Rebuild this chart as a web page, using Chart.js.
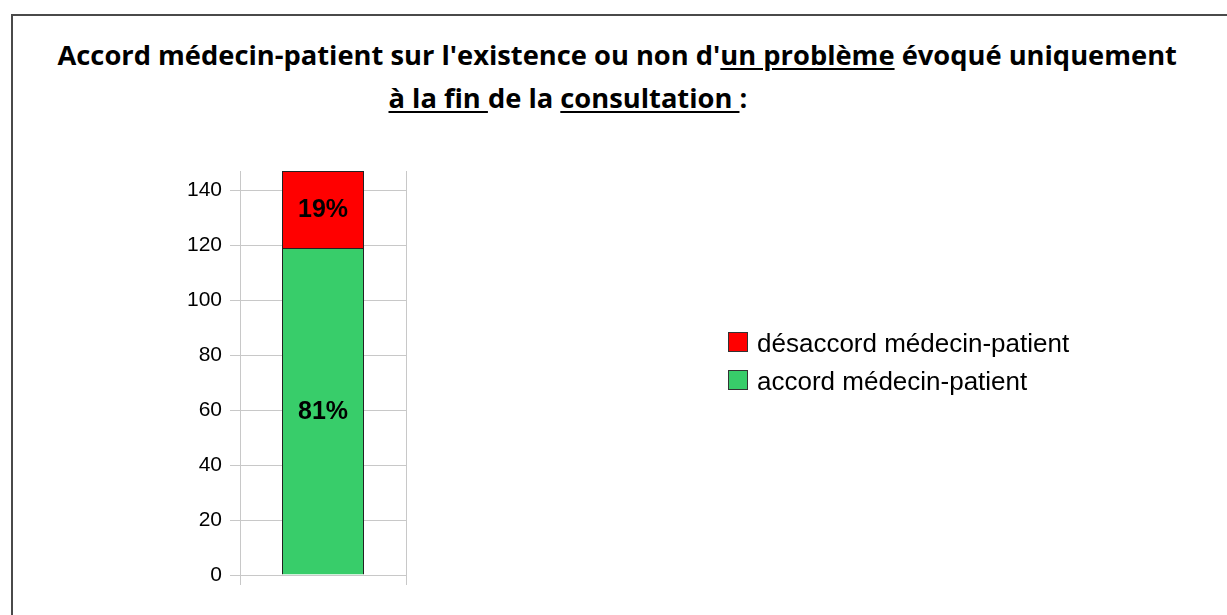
<!DOCTYPE html>
<html>
<head>
<meta charset="utf-8">
<script src="https://cdn.jsdelivr.net/npm/chart.js@4/dist/chart.umd.min.js"></script>
<style>
  html, body { margin: 0; padding: 0; background: #fff; }
  #wrap { position: relative; width: 1227px; height: 615px; overflow: hidden; }
  #frame { position: absolute; left: 11px; top: 14px; width: 1400px; height: 800px;
           border-left: 2px solid #4a4a4a; border-top: 2px solid #4a4a4a; }
  .tl { position: absolute; white-space: pre; font-family: "Open Sans", sans-serif;
        font-weight: bold; font-size: 27.3px; line-height: 30px; color: #000; }
  .tl u { text-decoration-thickness: 2px; text-underline-offset: 3px; }
  canvas { position: absolute; left: 0; top: 0; }
</style>
</head>
<body>
<div id="wrap">
  <div id="frame"></div>
  <div class="tl" id="t1">Accord médecin-patient sur l'existence ou non d'<u>un problème</u> évoqué uniquement</div>
  <div class="tl" id="t2"><u>à la fin </u>de la <u>consultation </u>:</div>
  <canvas id="chart1" width="1227" height="615"></canvas>
</div>
<script>
var categories = [''];
var seriesNames = ['accord médecin-patient', 'désaccord médecin-patient'];
var accordValues = [119];
var desaccordValues = [28];
var yTicks = [0, 20, 40, 60, 80, 100, 120, 140];

// place the two title lines
function centerAt(el, cx, top) {
    el.style.top = top + 'px';
    el.style.left = (cx - el.offsetWidth / 2) + 'px';
}
centerAt(document.getElementById('t1'), 617, 40);
centerAt(document.getElementById('t2'), 568, 83);

var labelsPlugin = {
    id: 'pctLabels',
    afterDatasetsDraw: function(chart) {
        var c = chart.ctx;
        var ds = chart.data.datasets;
        c.save();
        c.font = 'bold 25px "Liberation Sans", Arial, sans-serif';
        c.fillStyle = '#000';
        c.textAlign = 'center';
        c.textBaseline = 'middle';
        for (var j = 0; j < categories.length; j++) {
            var total = 0;
            ds.forEach(function(d) { total += d.data[j]; });
            ds.forEach(function(d, i) {
                var bar = chart.getDatasetMeta(i).data[j];
                var pct = Math.round(d.data[j] / total * 100) + '%';
                c.fillText(pct, bar.x, (bar.y + bar.base) / 2 + 1);
            });
        }
        c.restore();
    }
};

var legendPlugin = {
    id: 'sideLegend',
    afterDraw: function(chart) {
        var c = chart.ctx;
        var ds = chart.data.datasets;
        c.save();
        c.font = '26px "Liberation Sans", Arial, sans-serif';
        var boxTop = 332;
        for (var i = ds.length - 1; i >= 0; i--) {
            c.fillStyle = ds[i].backgroundColor;
            c.fillRect(728, boxTop, 20, 20);
            c.strokeStyle = '#333';
            c.lineWidth = 1;
            c.strokeRect(728.5, boxTop + 0.5, 19, 19);
            c.fillStyle = '#000';
            c.fillText(ds[i].label, 757, boxTop + 20);
            boxTop += 38;
        }
        c.restore();
    }
};

var ctx = document.getElementById('chart1').getContext('2d');
var chart = new Chart(ctx, {
    type: 'bar',
    data: {
        labels: categories,
        datasets: [{
            label: seriesNames[0],
            backgroundColor: '#38cd6a',
            borderColor: '#222',
            borderWidth: 1,
            data: accordValues
        }, {
            label: seriesNames[1],
            backgroundColor: '#ff0000',
            borderColor: '#222',
            borderWidth: 1,
            data: desaccordValues
        }]
    },
    options: {
        responsive: false,
        animation: false,
        events: [],
        layout: { padding: { left: 0, right: 821, top: 171, bottom: 30 } },
        datasets: { bar: { categoryPercentage: 1, barPercentage: 0.494 } },
        plugins: { legend: { display: false }, title: { display: false }, tooltip: { enabled: false } },
        scales: {
            x: {
                stacked: true,
                grid: { color: '#c8c8c8', tickLength: 10, offset: true },
                border: { color: '#c8c8c8' },
                ticks: { display: false },
                afterFit: function(s) { s.height = 10; }
            },
            y: {
                stacked: true,
                min: 0,
                max: 147,
                grid: { color: '#c8c8c8', tickLength: 10 },
                border: { color: '#c8c8c8' },
                afterBuildTicks: function(s) {
                    s.ticks = yTicks.map(function(v) { return { value: v }; });
                },
                ticks: {
                    color: '#000',
                    padding: 8,
                    font: { family: '"Liberation Sans", Arial, sans-serif', size: 21 }
                },
                afterFit: function(s) { s.width = 240; }
            }
        }
    },
    plugins: [labelsPlugin, legendPlugin]
});
</script>
</body>
</html>
